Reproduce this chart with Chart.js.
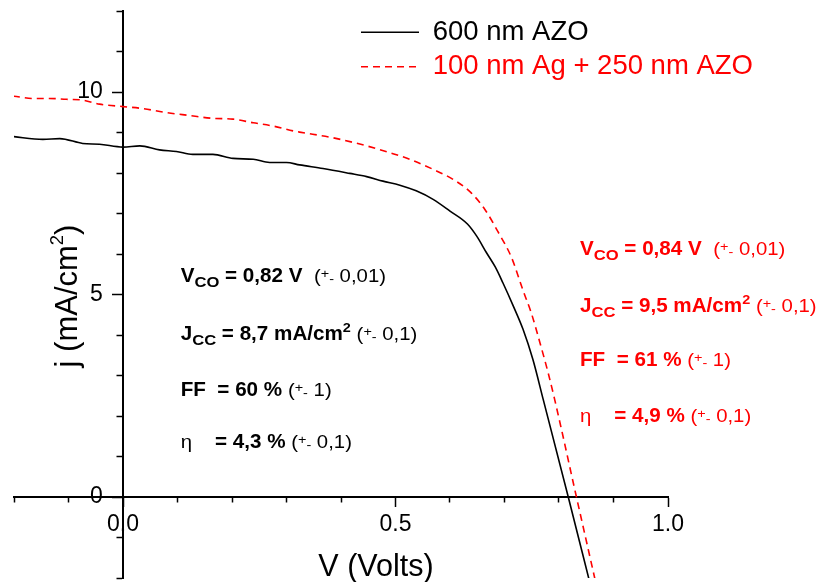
<!DOCTYPE html>
<html><head><meta charset="utf-8">
<script src="https://cdn.jsdelivr.net/npm/chart.js@4.4.1/dist/chart.umd.min.js"></script>
<style>html,body{margin:0;padding:0;background:#fff;}canvas{display:block;}</style>
</head><body>
<canvas id="c" width="826" height="582"></canvas>
<script>
// ---------- data ----------
const SERIES_NAMES = ['600 nm AZO', '100 nm Ag + 250 nm AZO'];
const SERIES_COLORS = ['#000000', '#ff0000'];

const V_AZO = [-0.202, -0.147, -0.116, -0.074, -0.043, 0.000, 0.031, 0.067, 0.098, 0.128, 0.165, 0.202, 0.239, 0.269, 0.300, 0.324, 0.367, 0.416, 0.447, 0.477, 0.508, 0.538, 0.569, 0.600, 0.632, 0.649, 0.667, 0.683, 0.697, 0.716, 0.734, 0.752, 0.771, 0.817, 0.855];
const J_AZO = [8.90, 8.83, 8.85, 8.73, 8.71, 8.64, 8.67, 8.57, 8.53, 8.46, 8.46, 8.36, 8.34, 8.26, 8.26, 8.20, 8.11, 7.99, 7.91, 7.80, 7.70, 7.56, 7.35, 7.06, 6.74, 6.44, 6.03, 5.68, 5.29, 4.72, 4.14, 3.40, 2.41, 0.00, -2.03];

const V_AG = [-0.202, -0.165, -0.135, -0.104, -0.074, -0.043, 0.000, 0.037, 0.080, 0.122, 0.165, 0.202, 0.239, 0.275, 0.312, 0.324, 0.385, 0.447, 0.490, 0.526, 0.569, 0.606, 0.638, 0.664, 0.688, 0.713, 0.734, 0.749, 0.765, 0.780, 0.792, 0.832, 0.866];
const J_AG = [9.90, 9.84, 9.84, 9.82, 9.80, 9.70, 9.64, 9.59, 9.49, 9.42, 9.35, 9.33, 9.24, 9.16, 9.04, 9.01, 8.87, 8.67, 8.50, 8.34, 8.09, 7.84, 7.52, 7.10, 6.55, 5.91, 5.10, 4.55, 3.81, 3.07, 2.41, 0.00, -2.03];

const X_RANGE = [-0.2, 1.0];
const Y_RANGE = [-2, 12];
const X_TICK_LABELS = [0.0, 0.5, 1.0];
const Y_TICK_LABELS = [0, 5, 10];
const X_TITLE = 'V (Volts)';
const Y_TITLE = ['j (mA/cm', '2', ')'];

const STATS_AZO = ['0,82', '8,7', '60', '4,3'];
const STATS_AG  = ['0,84', '9,5', '61', '4,9'];
const STATS_ERR = ['0,01', '0,1', '1', '0,1'];

// ---------- helpers ----------
const FONT = '"Liberation Sans", Arial, Helvetica, sans-serif';
Chart.defaults.font.family = FONT;
Chart.defaults.color = '#000';

const isMultiple = (v, step) => Math.abs(v / step - Math.round(v / step)) < 1e-6;
const zeroPad = s => { s.paddingLeft = 0; s.paddingRight = 0; s.paddingTop = 0; s.paddingBottom = 0; };

function runsWidth(ctx, runs) {
  let w = 0;
  for (const r of runs) { ctx.font = (r.b ? 'bold ' : '') + r.s + 'px ' + FONT; w += ctx.measureText(r.t).width; }
  return w;
}
function drawRuns(ctx, x, y, runs, color, sx) {
  ctx.save();
  ctx.translate(x, y);
  ctx.scale(sx || 1, 1);
  ctx.fillStyle = color; ctx.textAlign = 'left'; ctx.textBaseline = 'alphabetic';
  let cx = 0;
  for (const r of runs) {
    ctx.font = (r.b ? 'bold ' : '') + r.s + 'px ' + FONT;
    ctx.fillText(r.t, cx, r.dy || 0);
    cx += ctx.measureText(r.t).width;
  }
  ctx.restore();
}
const B = 19.3, N = 19, SUB = 15.5, SM = 13.5;
function errRuns(e) {
  return [{t: '(', s: N}, {t: '+', s: SM, dy: -4}, {t: '-', s: SM, dy: 1}, {t: ' ' + e + ')', s: N}];
}
function statLines(st) {
  return [
    [{t: 'V', s: B, b: 1}, {t: 'CO', s: SUB, b: 1, dy: 5}, {t: ' = ' + st[0] + ' V  ', s: B, b: 1}].concat(errRuns(STATS_ERR[0])),
    [{t: 'J', s: B, b: 1}, {t: 'CC', s: SUB, b: 1, dy: 5}, {t: ' = ' + st[1] + ' mA/cm', s: B, b: 1}, {t: '2', s: 13.5, b: 1, dy: -8}, {t: ' ', s: B, b: 1}].concat(errRuns(STATS_ERR[1])),
    [{t: 'FF  = ' + st[2] + ' % ', s: B, b: 1}].concat(errRuns(STATS_ERR[2])),
    [{t: 'η', s: N}, {t: '    = ' + st[3] + ' % ', s: B, b: 1}].concat(errRuns(STATS_ERR[3]))
  ];
}

const textPlugin = {
  id: 'texts',
  afterLayout(chart) {
    const lg = chart.legend; if (!lg) return;
    const w = lg.width, h = lg.height;
    lg.left = 354; lg.right = lg.left + w;
    lg.top = 11.5; lg.bottom = lg.top + h;
  },
  afterDraw(chart) {
    const ctx = chart.ctx;
    ctx.save();
    const blackLines = statLines(STATS_AZO), redLines = statLines(STATS_AG);
    const bBase = [281.7, 340, 395.7, 448.3], rBase = [255, 311.7, 366, 421.7];
    blackLines.forEach((l, i) => drawRuns(ctx, 180.7, bBase[i], l, SERIES_COLORS[0], 1.07));
    redLines.forEach((l, i) => drawRuns(ctx, 580, rBase[i], l, SERIES_COLORS[1], 1.07));
    // x title
    const xr = [{t: X_TITLE, s: 30.5}];
    drawRuns(ctx, 376 - runsWidth(ctx, xr) / 2, 575.5, xr, '#000');
    // y title (rotated)
    const yr = [{t: Y_TITLE[0], s: 31}, {t: Y_TITLE[1], s: 18.5, dy: -14}, {t: Y_TITLE[2], s: 31}];
    ctx.translate(77, 296);
    ctx.rotate(-Math.PI / 2);
    drawRuns(ctx, -runsWidth(ctx, yr) / 2, 0, yr, '#000');
    ctx.restore();
  }
};

const chart = new Chart(document.getElementById('c'), {
  type: 'scatter',
  data: {
    datasets: [
      {label: SERIES_NAMES[0], data: V_AZO.map((v, i) => ({x: v, y: J_AZO[i]})),
       borderColor: SERIES_COLORS[0], backgroundColor: SERIES_COLORS[0], borderWidth: 1.6, borderDash: [],
       showLine: true, pointRadius: 0, cubicInterpolationMode: 'monotone', fill: false},
      {label: SERIES_NAMES[1], data: V_AG.map((v, i) => ({x: v, y: J_AG[i]})),
       borderColor: SERIES_COLORS[1], backgroundColor: SERIES_COLORS[1], borderWidth: 1.6, borderDash: [7, 5],
       showLine: true, pointRadius: 0, cubicInterpolationMode: 'monotone', fill: false}
    ]
  },
  options: {
    responsive: false, animation: false, devicePixelRatio: 1,
    layout: {padding: {left: 14, right: 158, top: 11, bottom: 4}},
    events: [],
    scales: {
      x: {type: 'linear', min: X_RANGE[0], max: X_RANGE[1], position: {y: 0},
          ticks: {display: false, stepSize: 0.1},
          grid: {drawOnChartArea: false, color: '#000', tickLength: 9, tickWidth: 1.5,
                 tickBorderDash: c => isMultiple(c.tick.value, 0.5) ? [] : [4.5, 100]},
          border: {color: '#000', width: 2}, afterFit: zeroPad},
      y: {type: 'linear', min: Y_RANGE[0], max: Y_RANGE[1], position: {x: 0},
          ticks: {display: false, stepSize: 1},
          grid: {drawOnChartArea: false, color: '#000', tickLength: 10, tickWidth: 1.5,
                 tickBorderDash: c => isMultiple(c.tick.value, 5) ? [] : [5.5, 100]},
          border: {color: '#000', width: 2}, afterFit: zeroPad},
      x2: {type: 'linear', axis: 'x', min: X_RANGE[0], max: X_RANGE[1], position: {y: 0},
           grid: {display: false, drawTicks: false}, border: {display: false},
           ticks: {padding: 14, font: {size: 23}, color: '#000', autoSkip: false, maxRotation: 0,
                   callback: v => Number(v).toFixed(1)},
           afterBuildTicks: s => { s.ticks = X_TICK_LABELS.map(v => ({value: v})); },
           afterFit: zeroPad},
      y2: {type: 'linear', axis: 'y', min: Y_RANGE[0], max: Y_RANGE[1], position: {x: -0.037},
           grid: {display: false, drawTicks: false}, border: {display: false},
           ticks: {font: {size: 23}, color: '#000', autoSkip: false, callback: v => String(v)},
           afterBuildTicks: s => { s.ticks = Y_TICK_LABELS.map(v => ({value: v})); },
           afterFit: zeroPad}
    },
    plugins: {
      tooltip: {enabled: false},
      legend: {
        position: 'chartArea', align: 'start',
        labels: {
          usePointStyle: true, pointStyle: 'line', pointStyleWidth: 58,
          font: {size: 27.5}, padding: 7,
          generateLabels(ch) {
            const items = Chart.defaults.plugins.legend.labels.generateLabels(ch);
            items.forEach((it, i) => {
              const ds = ch.data.datasets[it.datasetIndex];
              it.fontColor = SERIES_COLORS[i];
              it.strokeStyle = ds.borderColor;
              it.lineDash = ds.borderDash || [];
              it.lineWidth = ds.borderWidth;
            });
            return items;
          }
        }
      }
    }
  },
  plugins: [textPlugin]
});
</script>
</body></html>
